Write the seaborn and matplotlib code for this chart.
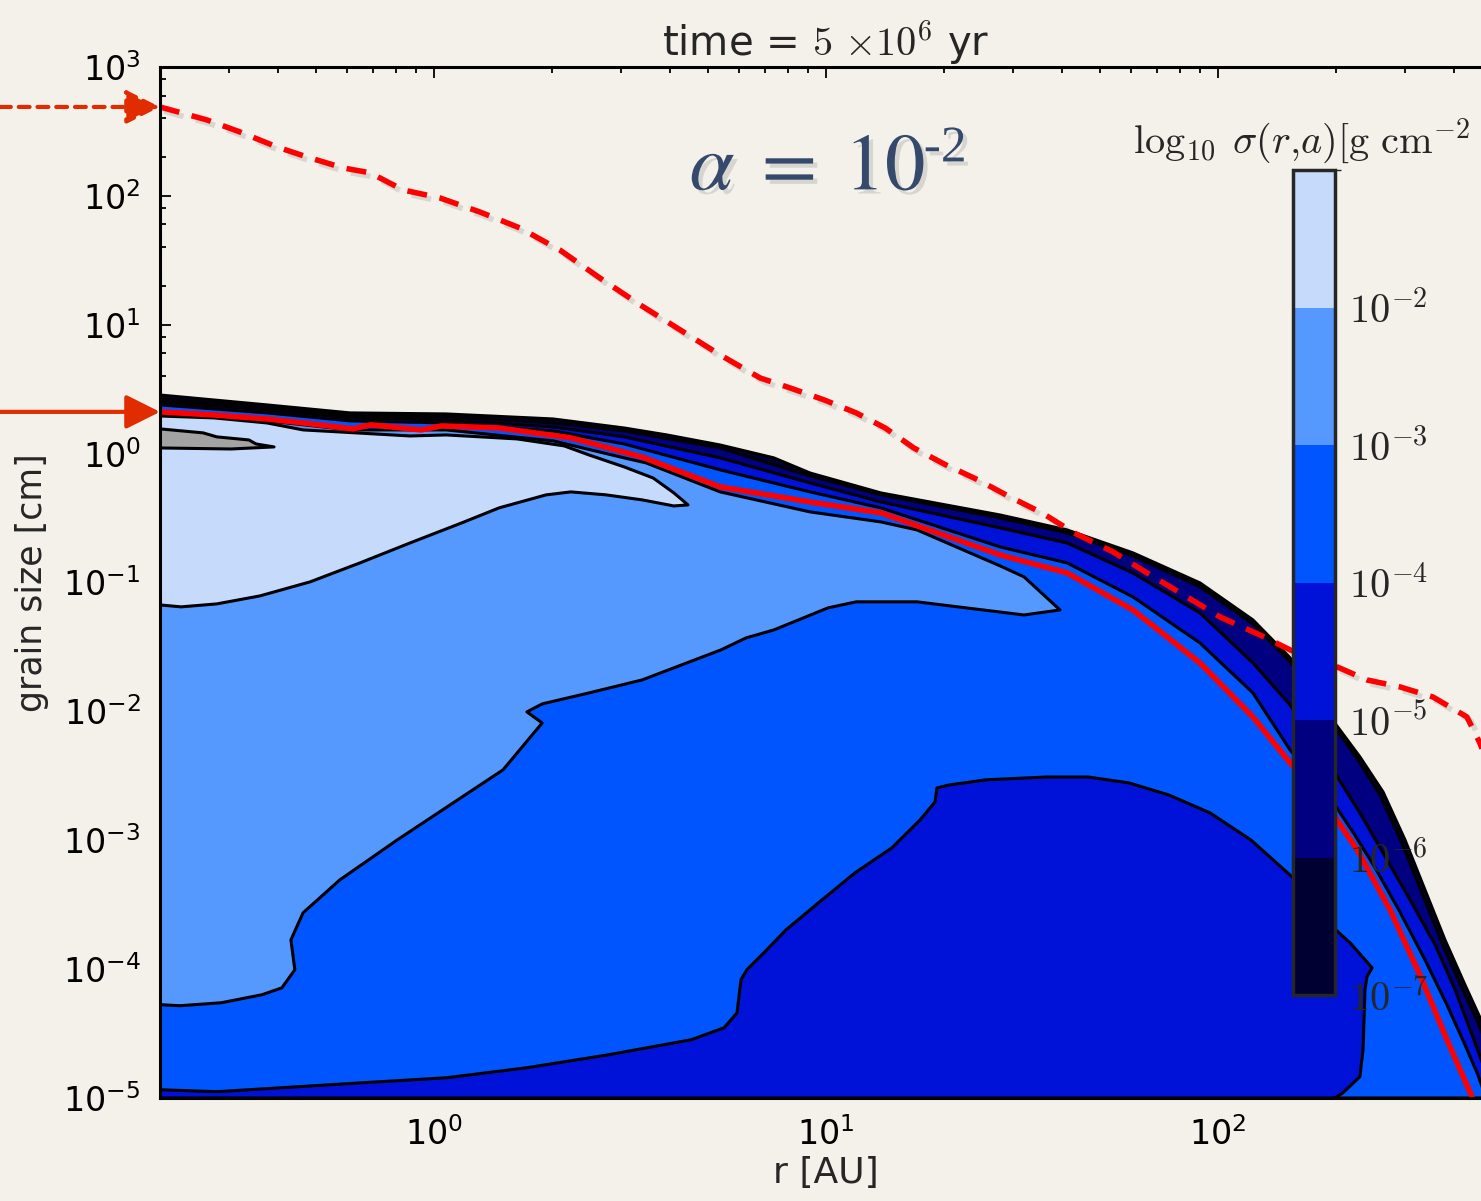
import matplotlib
matplotlib.use("Agg")
import matplotlib.pyplot as plt
import matplotlib.patheffects as pe
import numpy as np
import pandas as pd
import seaborn as sns
from matplotlib.cm import ScalarMappable
from matplotlib.colors import BoundaryNorm, ListedColormap
from matplotlib.ticker import LogLocator, NullFormatter

# ---------------------------------------------------------------
# Values, in log10(r / AU) and log10(a / cm)
# ---------------------------------------------------------------
R_LIM = (0.2, 500.0)
A_LIM = (1e-5, 1e3)

# upper edges of the sigma >= 1e-7, 1e-6, 1e-5, 1e-4 regions (left -> right)
lev7_r = [-0.699, -0.426, -0.214, 0.031, 0.304, 0.485, 0.594, 0.730, 0.867, 0.959, 1.140,
          1.444, 1.615, 1.783, 1.954, 2.089, 2.184, 2.298, 2.362, 2.421, 2.477, 2.528,
          2.579, 2.630, 2.671, 2.719, 2.750]
lev7_a = [0.455, 0.378, 0.316, 0.308, 0.269, 0.199, 0.145, 0.067, -0.033, -0.150, -0.305,
          -0.476, -0.592, -0.770, -1.003, -1.290, -1.585, -2.091, -2.353, -2.625, -2.997, -3.385,
          -3.773, -4.122, -4.394, -4.743, -5.0]

lev6_r = [-0.699, -0.426, -0.214, 0.031, 0.304, 0.485, 0.730, 0.959, 1.140, 1.444, 1.615,
          1.783, 1.954, 2.089, 2.184, 2.298, 2.357, 2.413, 2.469, 2.520, 2.571, 2.622,
          2.663, 2.712, 2.740]
lev6_a = [0.424, 0.355, 0.292, 0.285, 0.238, 0.176, 0.044, -0.173, -0.320, -0.499, -0.615,
          -0.794, -1.034, -1.321, -1.616, -2.121, -2.376, -2.648, -3.020, -3.408, -3.796, -4.145,
          -4.416, -4.766, -5.0]

lev5_r = [-0.699, -0.426, -0.214, 0.031, 0.304, 0.485, 0.730, 0.959, 1.140, 1.444, 1.615,
          1.783, 1.954, 2.089, 2.184, 2.298, 2.362, 2.421, 2.490, 2.554, 2.605, 2.648,
          2.681, 2.707]
lev5_a = [0.401, 0.339, 0.277, 0.261, 0.207, 0.130, -0.033, -0.227, -0.375, -0.576, -0.693,
          -0.926, -1.236, -1.624, -1.950, -2.478, -2.788, -3.098, -3.462, -3.811, -4.160, -4.509,
          -4.781, -5.0]

lev4_r = [-0.699, -0.426, -0.214, 0.031, 0.304, 0.485, 0.730, 0.959, 1.140, 1.444, 1.615,
          1.783, 1.954, 2.089, 2.184, 2.298, 2.349, 2.401, 2.464, 2.528, 2.584, 2.630,
          2.663, 2.684]
lev4_a = [0.378, 0.316, 0.254, 0.238, 0.176, 0.075, -0.126, -0.297, -0.421, -0.724, -0.848,
          -1.112, -1.469, -1.857, -2.300, -2.726, -2.959, -3.215, -3.556, -3.928, -4.277, -4.587,
          -4.820, -5.0]

# lower edge of the 1e-4 region: thin bottom band and the dome (left -> right)
lev4_low_r = [-0.699, -0.554, -0.388, -0.179, 0.031, 0.237, 0.446, 0.656, 0.740, 0.773,
              0.783, 0.798, 0.844, 0.898, 0.990, 1.074, 1.168, 1.240, 1.278, 1.283,
              1.314, 1.408, 1.564, 1.668, 1.773, 1.875, 1.980, 2.084, 2.189, 2.286,
              2.337, 2.393, 2.380, 2.375, 2.370, 2.362, 2.319, 2.298]
lev4_low_a = [-4.936, -4.951, -4.920, -4.881, -4.843, -4.765, -4.664, -4.548, -4.455, -4.339,
              -4.083, -4.005, -3.866, -3.695, -3.462, -3.253, -3.059, -2.842, -2.703, -2.594,
              -2.571, -2.531, -2.509, -2.509, -2.555, -2.649, -2.788, -2.998, -3.284, -3.656,
              -3.796, -3.990, -4.060, -4.160, -4.626, -4.835, -4.959, -5.0]

# closed outlines of the sigma >= 1e-3, 1e-2, 1e-1 regions
lev3_r = [-0.699, -0.426, -0.214, 0.031, 0.304, 0.485, 0.541, 0.730, 0.959, 1.140,
          1.232, 1.444, 1.505, 1.597, 1.505, 1.232, 1.077, 1.005, 0.867, 0.796,
          0.732, 0.531, 0.395, 0.276, 0.237, 0.276, 0.176, -0.094, -0.240, -0.334,
          -0.365, -0.355, -0.388, -0.439, -0.543, -0.648, -0.699]
lev3_a = [0.308, 0.254, 0.184, 0.184, 0.099, -0.033, -0.072, -0.297, -0.452, -0.530,
          -0.592, -0.871, -0.956, -1.213, -1.252, -1.150, -1.150, -1.197, -1.368, -1.430,
          -1.523, -1.756, -1.857, -1.942, -2.004, -2.090, -2.454, -2.998, -3.307, -3.563,
          -3.773, -4.005, -4.145, -4.199, -4.261, -4.284, -4.276]

lev2_r = [-0.699, -0.561, -0.426, -0.334, -0.199, -0.061, 0.031, 0.212, 0.332, 0.395,
          0.485, 0.559, 0.612, 0.648, 0.612, 0.531, 0.439, 0.349, 0.286, 0.166,
          0.077, -0.061, -0.189, -0.316, -0.444, -0.554, -0.645, -0.699]
lev2_a = [0.292, 0.277, 0.238, 0.184, 0.161, 0.137, 0.145, 0.114, 0.060, -0.010,
          -0.103, -0.189, -0.305, -0.398, -0.406, -0.359, -0.320, -0.297, -0.320, -0.421,
          -0.530, -0.693, -0.848, -0.995, -1.104, -1.166, -1.189, -1.174]

lev1_r = [-0.699, -0.589, -0.554, -0.472, -0.454, -0.408, -0.518, -0.699]
lev1_a = [0.192, 0.161, 0.130, 0.106, 0.075, 0.052, 0.036, 0.044]

# red curves
red_r = [-0.699, -0.561, -0.426, -0.334, -0.207, -0.161, -0.033, 0.020, 0.166, 0.349,
         0.531, 0.730, 0.959, 1.140, 1.444, 1.615, 1.783, 1.954, 2.089, 2.184,
         2.298, 2.355, 2.439, 2.515, 2.584, 2.648]
red_a = [0.324, 0.300, 0.269, 0.238, 0.192, 0.223, 0.184, 0.215, 0.199, 0.122,
         -0.026, -0.258, -0.375, -0.460, -0.786, -0.925, -1.213, -1.624, -2.043, -2.400,
         -2.819, -3.074, -3.540, -4.044, -4.548, -4.990]

red_dash_r = [-0.699, -0.579, -0.495, -0.401, -0.324, -0.232, -0.163, -0.079, 0.015, 0.117,
              0.219, 0.321, 0.423, 0.526, 0.628, 0.730, 0.832, 0.908, 0.995, 1.077,
              1.151, 1.224, 1.306, 1.388, 1.469, 1.551, 1.633, 1.732, 1.827, 1.921,
              2.005, 2.107, 2.184, 2.304, 2.380, 2.464, 2.548, 2.635, 2.668, 2.699]
red_dash_a = [2.690, 2.589, 2.496, 2.380, 2.302, 2.217, 2.179, 2.046, 1.984, 1.875,
              1.751, 1.580, 1.363, 1.154, 0.960, 0.766, 0.587, 0.510, 0.417, 0.316,
              0.199, 0.044, -0.088, -0.204, -0.336, -0.460, -0.615, -0.762, -0.941, -1.112,
              -1.267, -1.407, -1.523, -1.655, -1.756, -1.810, -1.888, -2.043, -2.245, -2.493]

cbar_levels = [-7, -6, -5, -4, -3, -2, -1]
cbar_ticks = [-7, -6, -5, -4, -3, -2]
band_colors = ['#000033', '#000080', '#0011d8', '#0055ff', '#5599ff', '#c6dbfc']
over_color = '#a3a3a3'

BG = '#f4f1ea'
RED = '#ff0000'
ARROW_RED = '#e12b00'

# ---------------------------------------------------------------
sns.set_theme(style='ticks', rc={'axes.facecolor': BG, 'figure.facecolor': BG})
plt.rcParams['font.family'] = ['DejaVu Sans']

fig = plt.figure(figsize=(14.81, 12.01), dpi=100)
ax = fig.add_axes([160 / 1481, 1 - 1098 / 1201, 1332 / 1481, 1031 / 1201])
ax.set_xscale('log')
ax.set_yscale('log')


def fill_level(lr, la, color, z):
    ax.fill(10 ** np.asarray(lr), 10 ** np.asarray(la), facecolor=color,
            edgecolor='black', linewidth=2.2, joinstyle='round', zorder=z)


lo_r, lo_a = np.log10(R_LIM[0]), np.log10(A_LIM[0])
for i, (lr, la) in enumerate([(lev7_r, lev7_a), (lev6_r, lev6_a), (lev5_r, lev5_a)]):
    fill_level(lr + [lo_r], la + [lo_a], band_colors[i], 1 + i)
fill_level(lev4_r + lev4_low_r[::-1], lev4_a + lev4_low_a[::-1], band_colors[3], 4)
fill_level(lev3_r, lev3_a, band_colors[4], 5)
fill_level(lev2_r, lev2_a, band_colors[5], 6)
fill_level(lev1_r, lev1_a, over_color, 7)

shadow = [pe.SimpleLineShadow(offset=(3, -3), shadow_color='k', alpha=0.12), pe.Normal()]

solid = pd.DataFrame({'r': 10 ** np.array(red_r), 'a': 10 ** np.array(red_a)})
sns.lineplot(data=solid, x='r', y='a', sort=False, estimator=None, color=RED,
             linewidth=4, ax=ax, zorder=8)

dashed = pd.DataFrame({'r': 10 ** np.array(red_dash_r), 'a': 10 ** np.array(red_dash_a)})
sns.lineplot(data=dashed, x='r', y='a', sort=False, estimator=None, color=RED,
             linewidth=4, linestyle=(0, (3.6, 2.3)), ax=ax, zorder=8, path_effects=shadow)

ax.set_xlim(R_LIM)
ax.set_ylim(A_LIM)

# ticks
ax.xaxis.set_major_locator(LogLocator(base=10, numticks=10))
ax.xaxis.set_minor_locator(LogLocator(base=10, subs=np.arange(2, 10), numticks=50))
ax.yaxis.set_major_locator(LogLocator(base=10, numticks=20))
ax.yaxis.set_minor_locator(LogLocator(base=10, subs=(2, 4, 6, 8), numticks=50))
ax.xaxis.set_minor_formatter(NullFormatter())
ax.yaxis.set_minor_formatter(NullFormatter())
ax.tick_params(which='both', direction='in', top=True, right=True, width=1.3,
               labelsize=24, pad=14, colors='black')
ax.tick_params(which='major', length=8)
ax.tick_params(which='minor', length=4.5)
for s in ax.spines.values():
    s.set_linewidth(2.2)
    s.set_color('black')
    s.set_zorder(10)

ax.set_xlabel('r [AU]', fontsize=26)
ax.set_ylabel('grain size [cm]', fontsize=25)
ax.xaxis.set_label_coords(0.5, -0.056)
ax.yaxis.set_label_coords(-0.083, 0.5)
ax.set_title(r'time = $5\ {\times}10^{6}$ yr', fontsize=29, pad=8, math_fontfamily='cm')

# alpha annotation
txt_shadow = [pe.withSimplePatchShadow(offset=(3, -3), shadow_rgbFace='#666666', alpha=0.2)]
t1 = ax.text(0.486, 0.881, r'$\alpha\;=\;10$', transform=ax.transAxes, fontsize=58,
             math_fontfamily='stix', color='#34496b', ha='center', va='baseline',
             path_effects=txt_shadow, zorder=12)
ax.annotate('-2', xy=(1, 1), xycoords=t1, xytext=(-1, 2), textcoords='offset points',
            fontsize=37, family='Liberation Serif', color='#34496b', ha='left', va='top',
            path_effects=txt_shadow, zorder=12)

# arrows from the left margin to the start of the red curves
arrow_kw = dict(arrowstyle='-|>,head_length=1.1,head_width=0.55', color=ARROW_RED, lw=3,
                shrinkA=0, shrinkB=0, mutation_scale=19)
ax.annotate('', xy=(10 ** red_dash_r[0], 10 ** red_dash_a[0]), xycoords='data',
            xytext=(0, 10 ** red_dash_a[0]), textcoords=('figure fraction', 'data'),
            arrowprops=dict(arrow_kw, linestyle=(0, (2.6, 1.9))), annotation_clip=False)
ax.annotate('', xy=(10 ** red_r[0], 10 ** red_a[0]), xycoords='data',
            xytext=(0, 10 ** red_a[0]), textcoords=('figure fraction', 'data'),
            arrowprops=arrow_kw, annotation_clip=False)

# colour bar inset
cax = fig.add_axes([1293 / 1481, 1 - 995 / 1201, 42 / 1481, 825 / 1201])
cmap = ListedColormap(band_colors)
norm = BoundaryNorm(cbar_levels, cmap.N)
cb = fig.colorbar(ScalarMappable(norm=norm, cmap=cmap), cax=cax, ticks=cbar_ticks)
cb.ax.set_yticklabels([rf'$10^{{{t}}}$' for t in cbar_ticks], fontsize=29,
                      math_fontfamily='cm')
cb.ax.tick_params(direction='in', length=9, width=1.2, right=True, left=False, pad=10)
cb.outline.set_linewidth(2.5)
fig.text(1133 / 1481, 1 - 153 / 1201, r'$\log_{10}\;\sigma(r{,}a)[\mathrm{g\ cm}^{-2}$',
         fontsize=29, math_fontfamily='cm', ha='left', va='baseline')

fig.savefig('out.png', dpi=100, facecolor=BG)
